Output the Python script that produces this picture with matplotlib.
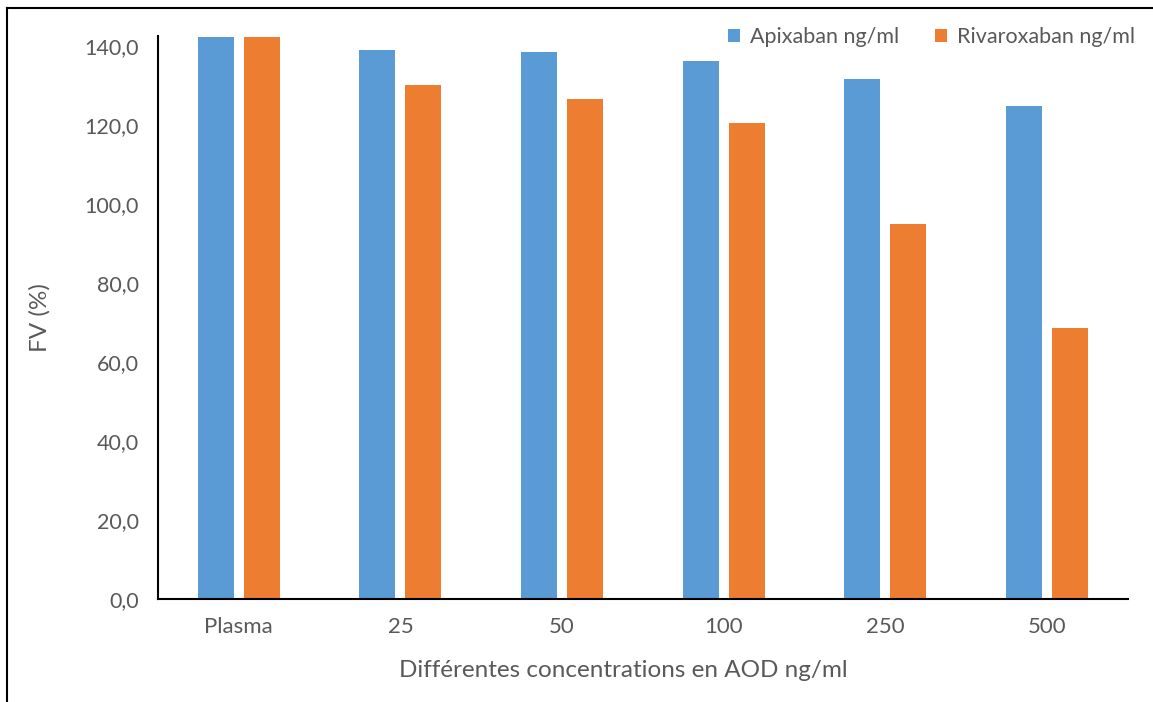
import numpy as np
import matplotlib
matplotlib.use('Agg')
import matplotlib.pyplot as plt
from matplotlib.lines import Line2D

categories = ['Plasma', '25', '50', '100', '250', '500']
apixaban = [142.3, 139.0, 138.5, 136.2, 131.6, 124.8]
rivaroxaban = [142.3, 130.1, 126.6, 120.5, 94.9, 68.6]
yticks = [0, 20, 40, 60, 80, 100, 120, 140]

blue = '#5B9BD5'
orange = '#ED7D31'
gray = '#595959'

plt.rcParams['font.family'] = ['Lato', 'DejaVu Sans']

fig = plt.figure(figsize=(11.53, 7.02), dpi=100)
ax = fig.add_axes([0.137, 0.1467, 0.978 - 0.137, 0.9487 - 0.1467])

x = np.arange(len(categories))
w = 0.223
ax.bar(x - 0.142, apixaban, w, color=blue, label='Apixaban ng/ml')
ax.bar(x + 0.142, rivaroxaban, w, color=orange, label='Rivaroxaban ng/ml')

ax.set_xlim(-0.5, len(categories) - 0.5)
ax.set_ylim(0, 142.5)
ax.set_yticks(yticks)
ax.set_yticklabels([f'{v:.1f}'.replace('.', ',') for v in yticks])
ax.set_xticks(x)
ax.set_xticklabels(categories)
ax.tick_params(axis='y', length=0, labelsize=15.5, colors=gray, pad=14)
ax.tick_params(axis='x', length=0, labelsize=16, colors=gray, pad=13)

for s in ['top', 'right']:
    ax.spines[s].set_visible(False)
for s in ['left', 'bottom']:
    ax.spines[s].set_linewidth(1.5)
    ax.spines[s].set_color('black')

ax.set_ylabel('FV (%)', fontsize=17.5, color=gray, labelpad=24)
ax.set_xlabel('Différentes concentrations en AOD ng/ml', fontsize=17.5, color=gray)
ax.xaxis.set_label_coords(0.4795, -0.108)

fig.legend(*ax.get_legend_handles_labels(), loc='upper right',
           bbox_to_anchor=(1135 / 1153, 1 - 27 / 702), ncol=2, frameon=False,
           borderpad=0, borderaxespad=0,
           fontsize=15.5, labelcolor=gray, handlelength=0.55, handleheight=0.55,
           handletextpad=0.45, columnspacing=1.7)

# outer frame (left and top edges visible)
fig.add_artist(Line2D([7 / 1153, 7 / 1153], [0, 1 - 8 / 702], transform=fig.transFigure,
                      color='black', lw=1.5))
fig.add_artist(Line2D([7 / 1153, 1], [1 - 8 / 702, 1 - 8 / 702], transform=fig.transFigure,
                      color='black', lw=1.5))

fig.savefig('out.png', dpi=100)
